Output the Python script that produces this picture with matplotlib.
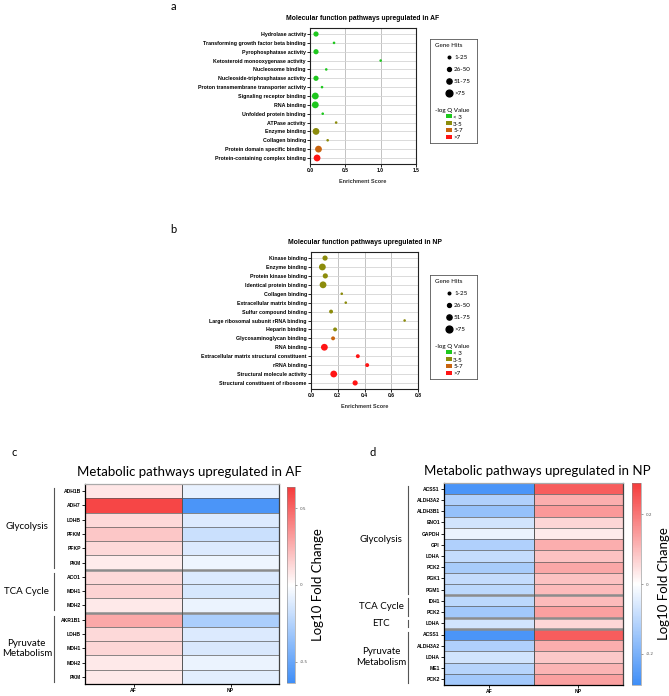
import numpy as np
import matplotlib
matplotlib.use("Agg")
import matplotlib.pyplot as plt
from matplotlib.colors import LinearSegmentedColormap
from matplotlib.lines import Line2D
from matplotlib.patches import Patch, Rectangle
from matplotlib.legend_handler import HandlerPatch
import matplotlib.transforms as mtransforms

# ---------------- data ----------------
a_terms = ["Hydrolase activity", "Transforming growth factor beta binding", "Pyrophosphatase activity",
           "Ketosteroid monooxygenase activity", "Nucleosome binding", "Nucleoside-triphosphatase activity",
           "Proton transmembrane transporter activity", "Signaling receptor binding", "RNA binding",
           "Unfolded protein binding", "ATPase activity", "Enzyme binding", "Collagen binding",
           "Protein domain specific binding", "Protein-containing complex binding"]
a_scores = [0.085, 0.34, 0.085, 1.0, 0.23, 0.085, 0.17, 0.075, 0.075, 0.18, 0.37, 0.085, 0.25, 0.12, 0.10]
a_hits = ["51-75", "1-25", "51-75", "1-25", "1-25", "51-75", "1-25", ">75", ">75",
          "1-25", "1-25", ">75", "1-25", ">75", ">75"]
a_q = ["< 3", "< 3", "< 3", "< 3", "< 3", "< 3", "< 3", "< 3", "< 3",
       "< 3", "3-5", "3-5", "3-5", "5-7", ">7"]

b_terms = ["Kinase binding", "Enzyme binding", "Protein kinase binding", "Identical protein binding",
           "Collagen binding", "Extracellular matrix binding", "Sulfur compound binding",
           "Large ribosomal subunit rRNA binding", "Heparin binding", "Glycosaminoglycan binding",
           "RNA binding", "Extracellular matrix structural constituent", "rRNA binding",
           "Structural molecule activity", "Structural constituent of ribosome"]
b_scores = [0.105, 0.085, 0.107, 0.09, 0.23, 0.26, 0.15, 0.70, 0.18, 0.165, 0.10, 0.35, 0.42, 0.17, 0.33]
b_hits = ["51-75", ">75", "51-75", ">75", "1-25", "1-25", "26-50", "1-25", "26-50", "26-50",
          ">75", "26-50", "26-50", ">75", "51-75"]
b_q = ["3-5", "3-5", "3-5", "3-5", "3-5", "3-5", "3-5", "3-5", "3-5", "5-7",
       ">7", ">7", ">7", ">7", ">7"]

hit_bins = ["1-25", "26-50", "51-75", ">75"]
q_bins = ["< 3", "3-5", "5-7", ">7"]

c_genes = ["ADH1B", "ADH7", "LDHB", "PFKM", "PFKP", "PKM", "ACO1", "MDH1", "MDH2",
           "AKR1B1", "LDHB", "MDH1", "MDH2", "PKM"]
c_groups = ["Glycolysis", "TCA Cycle", "Pyruvate\nMetabolism"]
c_group_sizes = [6, 3, 5]
c_af = [0.08, 0.60, 0.12, 0.18, 0.12, 0.06, 0.12, 0.14, 0.07, 0.28, 0.12, 0.13, 0.07, 0.07]
c_np = [-0.08, -0.60, -0.12, -0.18, -0.12, -0.06, -0.12, -0.14, -0.07, -0.28, -0.12, -0.13, -0.07, -0.10]

d_genes = ["ACSS1", "ALDH3A2", "ALDH3B1", "ENO1", "GAPDH", "GPI", "LDHA", "PCK2", "PGK1", "PGM1",
           "IDH1", "PCK2", "LDHA", "ACSS1", "ALDH3A2", "LDHA", "ME1", "PCK2"]
d_groups = ["Glycolysis", "TCA Cycle", "ETC", "Pyruvate\nMetabolism"]
d_group_sizes = [10, 2, 1, 5]
d_af = [-0.27, -0.12, -0.16, -0.07, -0.03, -0.12, -0.09, -0.13, -0.09, -0.10,
        -0.10, -0.14, -0.07, -0.27, -0.12, -0.07, -0.11, -0.14]
d_np = [0.24, 0.12, 0.15, 0.06, 0.03, 0.12, 0.09, 0.13, 0.09, 0.10,
        0.10, 0.14, 0.06, 0.24, 0.12, 0.08, 0.11, 0.14]

# ---------------- styles ----------------
hit_sizes = {"1-25": 3.5, "26-50": 8, "51-75": 14, ">75": 24}
q_colors = {"< 3": "#1ec81e", "3-5": "#8c8c0c", "5-7": "#c8640f", ">7": "#ff1414"}
ARIAL = "Liberation Sans"
CAL = "Lato"

cmap = LinearSegmentedColormap.from_list("bwr2", ["#3f8ef7", "#ffffff", "#f53b3b"])

fig = plt.figure(figsize=(6.69, 6.96), dpi=100)
W, H = 669.0, 696.0


def frect(x0, y0, x1, y1):
    return [x0 / W, 1 - y1 / H, (x1 - x0) / W, (y1 - y0) / H]


def small_square(legend, orig_handle, xdescent, ydescent, width, height, fontsize):
    w, h = 4.4, 3.0
    return Rectangle((width - w - xdescent, -ydescent + (height - h) / 2.0), w, h)


def dotplot(rect, legrect, terms, scores, hits, qs, xmax, xticks, title):
    ax = fig.add_axes(rect)
    y = np.arange(len(terms))
    ax.scatter(scores, y, s=[hit_sizes[h] for h in hits], c=[q_colors[q] for q in qs],
               linewidths=0, zorder=3)
    ax.set_xlim(0, xmax)
    ax.set_ylim(len(terms) - 0.32, -0.68)
    ax.set_yticks(y)
    ax.set_yticklabels(terms, fontsize=3.8, fontweight="bold", fontfamily=ARIAL)
    ax.set_xticks(xticks)
    ax.set_xticklabels(["%.1f" % t for t in xticks], fontsize=3.6, fontweight="bold", fontfamily=ARIAL)
    ax.grid(axis="y", color="#d4d4d4", lw=0.6)
    ax.grid(axis="x", color="#b8b8b8", lw=0.6)
    ax.set_axisbelow(True)
    for s in ax.spines.values():
        s.set_linewidth(0.8)
        s.set_color("#222222")
    ax.tick_params(length=2, width=0.6, pad=1)
    ax.set_title(title, fontsize=4.9, fontweight="bold", fontfamily=ARIAL, pad=6)
    ax.set_xlabel("Enrichment Score", fontsize=4.0, fontweight="bold", fontfamily=ARIAL,
                  labelpad=4, color="#333333")

    lax = fig.add_axes(legrect)
    lax.set_xticks([])
    lax.set_yticks([])
    for s in lax.spines.values():
        s.set_linewidth(0.6)
        s.set_color("#555555")
    size_handles = [Line2D([], [], ls="", marker="o", color="black",
                           markersize=np.sqrt(hit_sizes[h]), label=h) for h in hit_bins]
    leg1 = lax.legend(handles=size_handles, title="Gene Hits", loc="upper left",
                      bbox_to_anchor=(-0.02, 1.02), frameon=False, alignment="left",
                      prop={"family": CAL, "size": 4.5}, title_fontproperties={"family": CAL, "size": 4.5},
                      handlelength=4.4, handletextpad=-1.4, labelspacing=1.05, borderpad=0.5)
    lax.add_artist(leg1)
    color_handles = [Patch(facecolor=q_colors[q], edgecolor="none", label=q) for q in q_bins]
    lax.legend(handles=color_handles, title="-log Q Value", loc="upper left",
               bbox_to_anchor=(-0.02, 0.40), frameon=False, alignment="left",
               prop={"family": CAL, "size": 4.5}, title_fontproperties={"family": CAL, "size": 4.5},
               handlelength=2.7, handleheight=0.6, handletextpad=0.15, labelspacing=0.28,
               borderpad=0.5, handler_map={Patch: HandlerPatch(patch_func=small_square)})
    return ax


def heatmap(rect, cbrect, genes, groups, sizes, af, npv, vmax, cticks, bx, gx, title, title_xy):
    ax = fig.add_axes(rect)
    n = len(genes)
    data = np.column_stack([af, npv])
    mesh = ax.pcolormesh(np.arange(3), np.arange(n + 1), data, cmap=cmap, vmin=-vmax, vmax=vmax)
    ax.set_xlim(0, 2)
    ax.set_ylim(n, 0)
    ax.set_xticks([0.5, 1.5])
    ax.set_xticklabels(["AF", "NP"], fontsize=3.6, fontweight="bold", fontfamily=ARIAL)
    ax.set_yticks(np.arange(n) + 0.5)
    ax.set_yticklabels(genes, fontsize=3.6, fontweight="bold", fontfamily=ARIAL)
    ax.tick_params(length=2, width=0.6, pad=1)
    ax.hlines(np.arange(1, n), 0, 2, color="#5a5a5a", lw=0.5)
    bounds = np.cumsum(sizes)[:-1]
    ax.hlines(bounds, 0, 2, color="#8c8c8c", lw=1.8)
    ax.vlines(1, 0, n, color="#555555", lw=0.7)
    for s in ax.spines.values():
        s.set_linewidth(0.9)
    ax.spines["top"].set_color("#aaaaaa")
    ax.spines["right"].set_color("#444444")
    trans = mtransforms.blended_transform_factory(ax.transAxes, ax.transData)
    start = 0
    for g, sz in zip(groups, sizes):
        ax.plot([bx, bx], [start + 0.25, start + sz - 0.15], transform=trans, clip_on=False,
                color="#555555", lw=0.8)
        ax.text(gx, start + sz / 2.0, g, transform=trans, ha="center", va="center",
                fontsize=7, fontfamily=CAL, linespacing=1.2)
        start += sz
    cax = fig.add_axes(cbrect)
    cb = fig.colorbar(mesh, cax=cax)
    cb.outline.set_linewidth(0.4)
    cb.outline.set_edgecolor("#888888")
    cb.set_ticks(cticks)
    cb.set_ticklabels([("%g" % t) for t in cticks])
    cax.tick_params(labelsize=3, length=1.5, width=0.4, colors="#555555", pad=2)
    cax.set_ylabel("Log10 Fold Change", fontsize=9.5, fontfamily=CAL, labelpad=3)
    fig.text(title_xy[0] / W, 1 - title_xy[1] / H, title, ha="center", va="center",
             fontsize=9.5, fontfamily=CAL)
    return ax


dotplot(frect(310, 28, 416, 164), frect(430, 39, 477, 143), a_terms, a_scores, a_hits, a_q,
        1.5, [0.0, 0.5, 1.0, 1.5], "Molecular function pathways upregulated in AF")
dotplot(frect(311, 252, 418, 389), frect(430, 275, 477, 379), b_terms, b_scores, b_hits, b_q,
        0.8, [0.0, 0.2, 0.4, 0.6, 0.8], "Molecular function pathways upregulated in NP")

heatmap(frect(85, 484, 279, 684), frect(287, 487, 295, 683), c_genes, c_groups, c_group_sizes,
        c_af, c_np, 0.64, [-0.5, 0, 0.5], -0.16, -0.30,
        "Metabolic pathways upregulated in AF", (189, 472))
heatmap(frect(444, 483, 623, 685), frect(632, 483, 641, 685), d_genes, d_groups, d_group_sizes,
        d_af, d_np, 0.29, [-0.2, 0, 0.2], -0.20, -0.35,
        "Metabolic pathways upregulated in NP", (537, 471))

for lab, (x, y) in {"a": (173, 6), "b": (173, 229), "c": (14, 453), "d": (373, 453)}.items():
    fig.text(x / W, 1 - y / H, lab, ha="center", va="center", fontsize=8, fontfamily=CAL)

fig.savefig("out.png", dpi=100)
